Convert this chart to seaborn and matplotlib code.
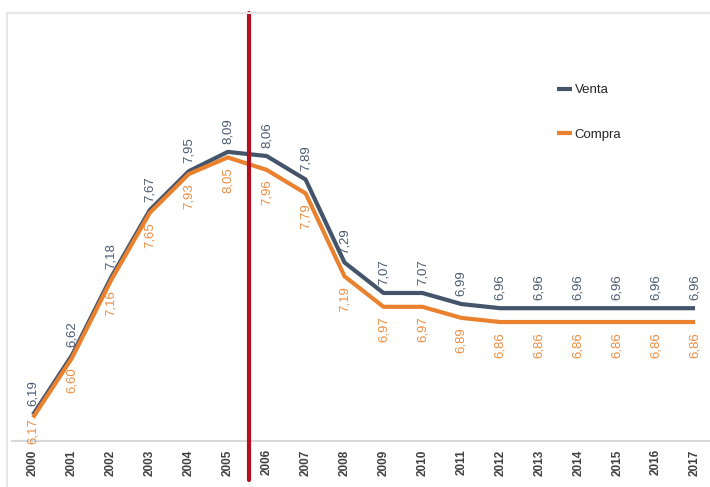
import matplotlib
matplotlib.use("Agg")
import matplotlib.pyplot as plt
from matplotlib.lines import Line2D
import pandas as pd
import seaborn as sns

years = list(range(2000, 2018))
venta = [6.19, 6.62, 7.18, 7.67, 7.95, 8.09, 8.06, 7.89, 7.29, 7.07, 7.07, 6.99,
         6.96, 6.96, 6.96, 6.96, 6.96, 6.96]
compra = [6.17, 6.60, 7.16, 7.65, 7.93, 8.05, 7.96, 7.79, 7.19, 6.97, 6.97, 6.89,
          6.86, 6.86, 6.86, 6.86, 6.86, 6.86]
series = ["Venta", "Compra"]
marker_year = 2005.55

sns.set_style("white")
plt.rcParams["font.family"] = ["Liberation Sans", "DejaVu Sans"]

W, H = 710, 487
fig = plt.figure(figsize=(W / 100, H / 100), dpi=100)
ax = fig.add_axes([12 / W, (H - 441) / H, (W - 12) / W, 415 / H])

df = pd.DataFrame({
    "Año": years * 2,
    "Valor": venta + compra,
    "Serie": [series[0]] * len(years) + [series[1]] * len(years),
})
colors = {"Venta": "#44546A", "Compra": "#E9812F"}
label_colors = {"Venta": "#4A5A70", "Compra": "#EC8E42"}
sns.lineplot(data=df, x="Año", y="Valor", hue="Serie", hue_order=series,
             palette=colors, linewidth=3, ax=ax, legend=True,
             solid_joinstyle="round", solid_capstyle="butt")

ymin, ymax = 6.0, 9.0
ax.set_xlim(1999.46, 2017.385)
ax.set_ylim(ymin, ymax)
ax.set_xlabel("")
ax.set_ylabel("")
ax.set_yticks([])
ax.set_xticks(years)
ax.set_xticklabels([str(y) for y in years], rotation=90, fontsize=8.5,
                   fontweight="bold", color="#404040")
ax.tick_params(axis="x", length=0, pad=6)
for s in ["left", "top", "right"]:
    ax.spines[s].set_visible(False)
ax.spines["bottom"].set_color("#D9D9D9")
ax.spines["bottom"].set_linewidth(1.5)

def fmt(v):
    return f"{v:.2f}".replace(".", ",")

# points per data unit (axes is 415 px tall for the y range)
pt_per_unit = 415 / (ymax - ymin) * 72 / 100
label_len_pt = 20

for yr, v in zip(years, venta):
    ax.annotate(fmt(v), (yr, v), xytext=(0, 6), textcoords="offset points",
                rotation=90, ha="center", va="bottom", fontsize=9.5,
                color=label_colors["Venta"])
for yr, v in zip(years, compra):
    room = (v - ymin) * pt_per_unit - label_len_pt
    off = max(0.5, min(7, room))
    ax.annotate(fmt(v), (yr, v), xytext=(0, -off), textcoords="offset points",
                rotation=90, ha="center", va="top", fontsize=9.5,
                color=label_colors["Compra"])

ax.axvline(marker_year, ymin=-0.094, ymax=1.031, clip_on=False,
           color="#B2121F", linewidth=3, zorder=5)

handles, labels = ax.get_legend_handles_labels()
ax.legend(handles, labels, loc="upper left",
          bbox_to_anchor=(557 / W, 1 - 84 / H), bbox_transform=fig.transFigure,
          frameon=False, fontsize=9.5, handlelength=1.15, handletextpad=0.2,
          labelspacing=2.45, borderpad=0, borderaxespad=0,
          labelcolor="#262626")

fig.add_artist(Line2D([7 / W, 1], [1 - 13 / H, 1 - 13 / H],
                      transform=fig.transFigure, color="#E6E6E6", linewidth=1.5))
fig.add_artist(Line2D([7 / W, 7 / W], [0, 1 - 13 / H],
                      transform=fig.transFigure, color="#E6E6E6", linewidth=1.5))

fig.savefig("out.png", dpi=100, facecolor="white")
